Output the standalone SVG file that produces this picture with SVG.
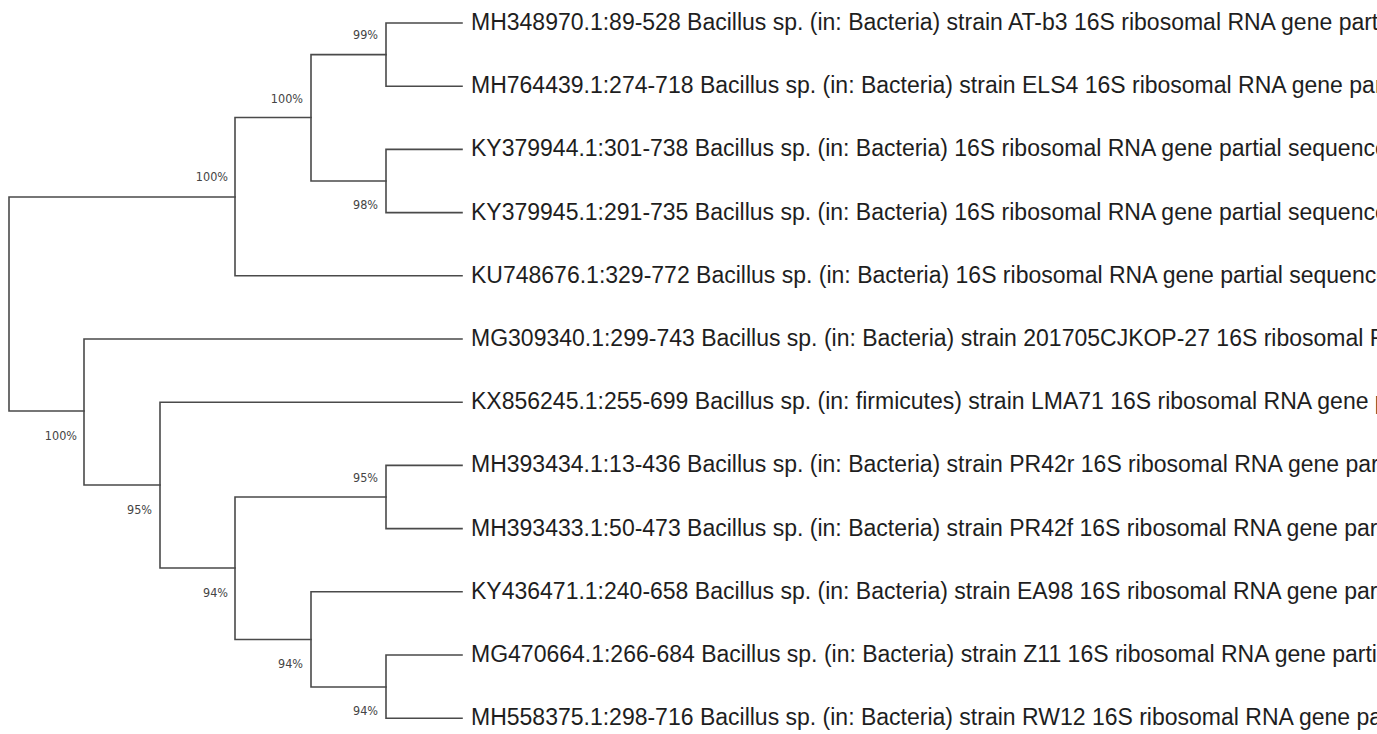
<svg xmlns="http://www.w3.org/2000/svg" width="1377" height="734" viewBox="0 0 1377 734">
<style>
.br{stroke:#4a4a4a;stroke-width:1.6;fill:none;stroke-linecap:square}
.lab{font-family:"Liberation Sans",Arial,sans-serif;font-size:23px;fill:#1e1e1e}
.bs{font-family:"DejaVu Sans Condensed","DejaVu Sans",sans-serif;font-size:12.5px;fill:#444;text-anchor:end}
</style>
<rect width="1377" height="734" fill="#fff"/>
<g id="connectors" class="br">
<path d="M9,197V411M9,197H235M9,411H84"/>
<path d="M235,117.5V275.8M235,117.5H311M235,275.8H462"/>
<path d="M311,54.6V181M311,54.6H386M311,181H386"/>
<path d="M386,23V86.2M386,23H462M386,86.2H462"/>
<path d="M386,149.4V212.6M386,149.4H462M386,212.6H462"/>
<path d="M84,339V485M84,339H462M84,485H160"/>
<path d="M160,402.2V568M160,402.2H462M160,568H235"/>
<path d="M235,497V639.5M235,497H386M235,639.5H311"/>
<path d="M386,465.4V528.6M386,465.4H462M386,528.6H462"/>
<path d="M311,591.8V687M311,591.8H462M311,687H386"/>
<path d="M386,655V718.2M386,655H462M386,718.2H462"/>
</g>
<g id="support">
<text class="bs" x="378" y="39">99%</text>
<text class="bs" x="303" y="103">100%</text>
<text class="bs" x="228" y="181">100%</text>
<text class="bs" x="378" y="209">98%</text>
<text class="bs" x="77" y="440">100%</text>
<text class="bs" x="378" y="482">95%</text>
<text class="bs" x="152" y="514">95%</text>
<text class="bs" x="228" y="597">94%</text>
<text class="bs" x="303" y="668">94%</text>
<text class="bs" x="378" y="715">94%</text>
</g>
<g id="leaf1"><text class="lab" x="471" y="30">MH348970.1:89-528 Bacillus sp. (in: Bacteria) strain AT-b3 16S ribosomal RNA gene part</text></g>
<g id="leaf2"><text class="lab" x="471" y="93.2">MH764439.1:274-718 Bacillus sp. (in: Bacteria) strain ELS4 16S ribosomal RNA gene par</text></g>
<g id="leaf3"><text class="lab" x="471" y="156.4">KY379944.1:301-738 Bacillus sp. (in: Bacteria) 16S ribosomal RNA gene partial sequence</text></g>
<g id="leaf4"><text class="lab" x="471" y="219.6">KY379945.1:291-735 Bacillus sp. (in: Bacteria) 16S ribosomal RNA gene partial sequence</text></g>
<g id="leaf5"><text class="lab" x="471" y="282.8">KU748676.1:329-772 Bacillus sp. (in: Bacteria) 16S ribosomal RNA gene partial sequence</text></g>
<g id="leaf6"><text class="lab" x="471" y="346">MG309340.1:299-743 Bacillus sp. (in: Bacteria) strain 201705CJKOP-27 16S ribosomal R</text></g>
<g id="leaf7"><text class="lab" x="471" y="409.2">KX856245.1:255-699 Bacillus sp. (in: firmicutes) strain LMA71 16S ribosomal RNA gene p</text></g>
<g id="leaf8"><text class="lab" x="471" y="472.4">MH393434.1:13-436 Bacillus sp. (in: Bacteria) strain PR42r 16S ribosomal RNA gene par</text></g>
<g id="leaf9"><text class="lab" x="471" y="535.6">MH393433.1:50-473 Bacillus sp. (in: Bacteria) strain PR42f 16S ribosomal RNA gene part</text></g>
<g id="leaf10"><text class="lab" x="471" y="598.8">KY436471.1:240-658 Bacillus sp. (in: Bacteria) strain EA98 16S ribosomal RNA gene par</text></g>
<g id="leaf11"><text class="lab" x="471" y="662">MG470664.1:266-684 Bacillus sp. (in: Bacteria) strain Z11 16S ribosomal RNA gene parti</text></g>
<g id="leaf12"><text class="lab" x="471" y="725.2">MH558375.1:298-716 Bacillus sp. (in: Bacteria) strain RW12 16S ribosomal RNA gene pa</text></g>
</svg>
